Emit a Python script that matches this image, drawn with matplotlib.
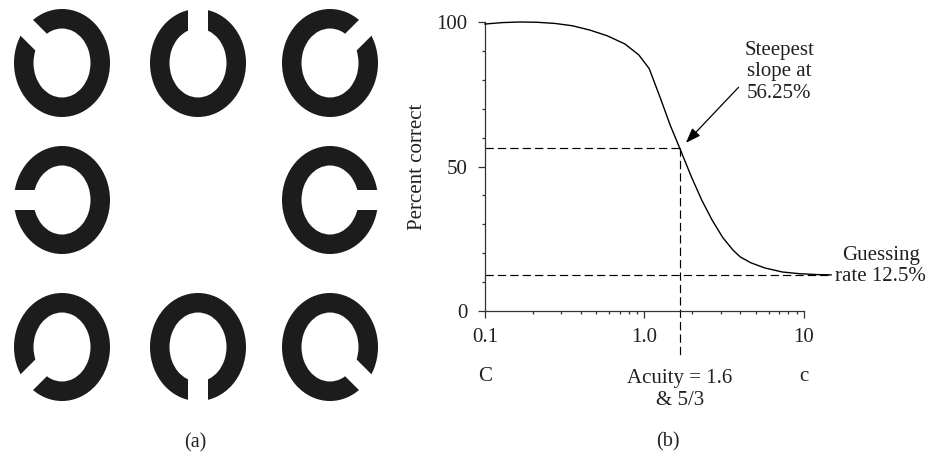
import numpy as np
import matplotlib
matplotlib.use("Agg")
import matplotlib.pyplot as plt
from matplotlib.patches import Annulus, Polygon

plt.rcParams["font.family"] = ["Liberation Serif", "DejaVu Serif"]
INK = "#231f20"
FS = 15
W, H = 928, 455

# (a) Landolt C layout: grid cell and gap direction (degrees, counter-clockwise from east)
ring_rows = [0, 0, 0, 1, 1, 2, 2, 2]
ring_cols = [0, 1, 2, 0, 2, 0, 1, 2]
gap_angles = [135, 90, 45, 180, 0, 225, 270, 315]
col_x = [62, 198, 330]
row_y = [63, 200, 347]

# (b) psychometric function
acuity = [0.1, 0.129, 0.166, 0.213, 0.275, 0.353, 0.455, 0.586, 0.754, 0.922,
          1.07, 1.25, 1.45, 5 / 3, 1.97, 2.29, 2.66, 3.10, 3.60, 3.99,
          4.64, 5.68, 7.31, 9.42, 12.1, 14.8]
pct_correct = [99.3, 99.8, 100.0, 99.9, 99.5, 98.7, 97.2, 95.2, 92.4, 88.6,
               83.9, 74.1, 64.3, 56.25, 46.4, 38.3, 31.4, 25.4, 21.0, 18.7,
               16.7, 14.9, 13.5, 12.9, 12.6, 12.5]
threshold_acuity = 5 / 3
threshold_pct = 56.25
guess_rate = 12.5
xtick_vals = [0.1, 1.0, 10]
xtick_labels = ["0.1", "1.0", "10"]
ytick_vals = [0, 50, 100]


def px(x, y):
    """Figure fraction from pixel position (origin top-left)."""
    return x / W, 1 - y / H


fig = plt.figure(figsize=(W / 100, H / 100), dpi=100)

# ---- panel (a): Landolt rings
ax_a = fig.add_axes([0, 0, 380 / W, 1])
ax_a.set_xlim(0, 380)
ax_a.set_ylim(H, 0)
ax_a.axis("off")
rx, ry, thick, gap = 48, 54, 19.5, 20
for r, c, ang in zip(ring_rows, ring_cols, gap_angles):
    cx, cy = col_x[c], row_y[r]
    ax_a.add_patch(Annulus((cx, cy), (rx, ry), thick, color="#1c1c1c", lw=0))
    d = np.array([np.cos(np.radians(ang)), -np.sin(np.radians(ang))])
    n = np.array([-d[1], d[0]])
    ctr = np.array([cx, cy])
    slot = [ctr + n * gap / 2, ctr + n * gap / 2 + d * 70,
            ctr - n * gap / 2 + d * 70, ctr - n * gap / 2]
    ax_a.add_patch(Polygon(slot, closed=True, color="white", lw=0, zorder=3))
fig.text(*px(195, 443), "(a)", ha="center", va="center", fontsize=14.5, color=INK)

# ---- panel (b): percent correct vs acuity
left, right, top, bottom = 485, 832, 22, 311
ax = fig.add_axes([left / W, 1 - bottom / H, (right - left) / W, (bottom - top) / H])
ax.set_xscale("log")
ax.set_xlim(0.1, 15)
ax.set_ylim(0, 100)

ax.plot(acuity, pct_correct, color="black", lw=1.0, clip_on=False, zorder=3)
dash = dict(color="black", lw=0.85, ls=(0, (7, 3.5)), clip_on=False)
ax.plot([0.1, threshold_acuity], [threshold_pct, threshold_pct], **dash)
ax.plot([threshold_acuity, threshold_acuity], [threshold_pct, -15.5], **dash)
ax.plot([0.1, 15], [guess_rate, guess_rate], **dash)

for s in ("top", "right"):
    ax.spines[s].set_visible(False)
for s in ("left", "bottom"):
    ax.spines[s].set_color("#333333")
    ax.spines[s].set_linewidth(0.9)
ax.spines["bottom"].set_bounds(0.1, 10)
ax.spines["left"].set_bounds(0, 100)

ax.set_xticks(xtick_vals, xtick_labels)
ax.set_xticks(np.r_[np.arange(2, 10) * 0.1, np.arange(2, 10)], minor=True)
ax.xaxis.set_minor_formatter(plt.NullFormatter())
ax.set_yticks(ytick_vals)
ax.set_yticks([10, 20, 30, 40, 60, 70, 80, 90], minor=True)
ax.tick_params(which="major", length=5, width=0.9, color="#333333", pad=7.5,
               labelsize=FS, labelcolor=INK)
ax.tick_params(which="minor", length=2.5, width=0.9, color="#333333")

ax.set_ylabel("Percent correct", fontsize=FS, color=INK, va="center")
ax.yaxis.set_label_coords((417 - left) / (right - left), 0.5)

ax.annotate("", xy=(1.82, 58.2), xytext=(3.89, 77.4),
            arrowprops=dict(arrowstyle="-|>,head_length=0.6,head_width=0.22",
                            mutation_scale=15, color="black", lw=0.9,
                            shrinkA=0, shrinkB=0))
ax.text(7.0, 82.7, "Steepest\nslope at\n56.25%", ha="center", va="center",
        multialignment="center", fontsize=FS, color=INK, linespacing=1.2)
ax.text(30.4, 15.6, "Guessing\nrate 12.5%", ha="center", va="center",
        multialignment="center", fontsize=FS, color=INK, linespacing=1.2)
ax.text(0.1, -22.8, "C", ha="center", va="center", fontsize=FS, color=INK)
ax.text(10, -22.8, "c", ha="center", va="center", fontsize=FS, color=INK)
ax.text(threshold_acuity, -27.3, "Acuity = 1.6\n& 5/3", ha="center", va="center",
        multialignment="center", fontsize=FS, color=INK, linespacing=1.2)
fig.text(*px(668, 442), "(b)", ha="center", va="center", fontsize=14.5, color=INK)

fig.savefig("out.png", dpi=100)
